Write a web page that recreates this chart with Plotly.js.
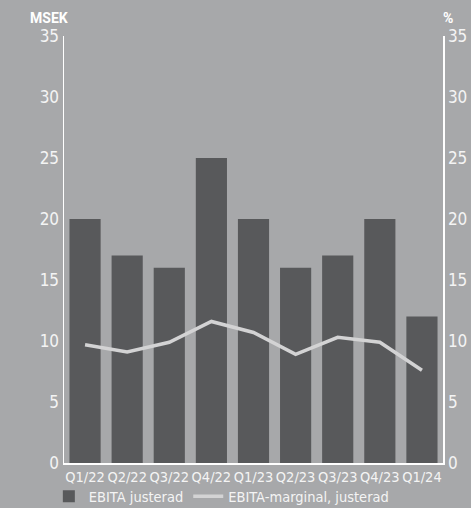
<!DOCTYPE html>
<html><head><meta charset="utf-8">
<script src="https://cdn.plot.ly/plotly-3.0.1.min.js"></script>
<style>html,body{margin:0;padding:0;background:#a7a8aa;}#c{width:471px;height:508px;}</style>
</head><body><div id="c"></div>
<script>
const quarters = ["Q1/22","Q2/22","Q3/22","Q4/22","Q1/23","Q2/23","Q3/23","Q4/23","Q1/24"];
const ebita = [20,17,16,25,20,16,17,20,12];
const margin = [9.7,9.1,9.9,11.6,10.7,8.9,10.3,9.9,7.6];
const yTicks = [0,5,10,15,20,25,30,35];

const fontFam = "'Liberation Sans Narrow', 'DejaVu Sans Condensed', Roboto, sans-serif";
const txt = "#f4f4f4";

const traces = [
  {type:"bar", x:quarters, y:ebita, name:"EBITA justerad",
   marker:{color:"#58595b"}, yaxis:"y"},
  {type:"scatter", mode:"lines", x:quarters, y:margin, name:"EBITA-marginal, justerad",
   line:{color:"#d3d3d4", width:3.5}, yaxis:"y2"}
];
const layout = {
  width:471, height:508,
  paper_bgcolor:"#a7a8aa", plot_bgcolor:"#a7a8aa",
  margin:{l:64, r:28, t:36, b:45, autoexpand:false},
  font:{family:fontFam, color:txt, size:15},
  bargap:0.26,
  showlegend:true,
  legend:{orientation:"h", x:-0.04, xanchor:"left", y:-0.078, yanchor:"middle",
          font:{size:14.5, color:txt}, itemwidth:30, tracegroupgap:0, bgcolor:"rgba(0,0,0,0)"},
  xaxis:{showline:true, linecolor:"#ffffff", linewidth:1.5, ticks:"", showgrid:false,
         tickangle:0, automargin:false, tickfont:{size:14.5, color:txt}, zeroline:false},
  yaxis:{range:[0,35], tickvals:yTicks, showline:true, linecolor:"#ffffff", linewidth:1.5,
         showgrid:false, zeroline:false, ticks:"", automargin:false, tickfont:{size:17, color:txt}},
  yaxis2:{range:[0,35], tickvals:yTicks, overlaying:"y", side:"right", showline:true,
          linecolor:"#ffffff", linewidth:1.5, showgrid:false, zeroline:false, ticks:"", automargin:false,
          tickfont:{size:17, color:txt}},
  annotations:[
    {text:"<b>MSEK</b>", xref:"paper", yref:"paper", x:-0.04, y:1.0, yshift:18, xanchor:"center",
     yanchor:"middle", showarrow:false, font:{size:14, color:"#ffffff", family:"Roboto, sans-serif"}},
    {text:"<b>%</b>", xref:"paper", yref:"paper", x:1.0, y:1.0, yshift:18, xshift:5, xanchor:"center",
     yanchor:"middle", showarrow:false, font:{size:14, color:"#ffffff", family:"Roboto, sans-serif"}}
  ]
};
Plotly.newPlot("c", traces, layout, {displayModeBar:false, staticPlot:true});
</script></body></html>
